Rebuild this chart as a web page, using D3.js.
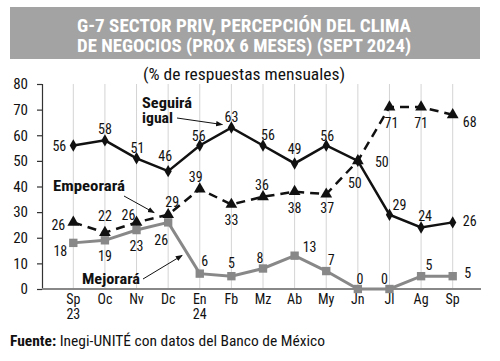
<!DOCTYPE html>
<html>
<head>
<meta charset="utf-8">
<script src="https://cdn.jsdelivr.net/npm/d3@7"></script>
<style>
  body { margin: 0; background: #fff; }
  svg text { font-family: "Roboto Condensed", "Liberation Sans Narrow", "DejaVu Sans Condensed", Roboto, sans-serif; }
</style>
</head>
<body>
<script>
   // data
   let months = ['Sp', 'Oc', 'Nv', 'Dc', 'En', 'Fb', 'Mz', 'Ab', 'My', 'Jn', 'Jl', 'Ag', 'Sp'];
   let years = ['23', '', '', '', '24', '', '', '', '', '', '', '', ''];
   let seguira = [56, 58, 51, 46, 56, 63, 56, 49, 56, 50, 29, 24, 26];
   let empeorara = [26, 22, 26, 29, 39, 33, 36, 38, 37, 50, 71, 71, 68];
   let mejorara = [18, 19, 23, 26, 6, 5, 8, 13, 7, 0, 0, 5, 5];
   let yTicks = [0, 10, 20, 30, 40, 50, 60, 70, 80];

   // label nudges (dx, dy from the point)
   let seguiraOff = [[-14, 0], [0, -11], [1, -10], [-3, -15], [-1, -10], [0, -11], [5, -11], [0, -14], [1, -10], [24, 1], [10, -10], [4, -12], [17, -1]];
   let empeoraraOff = [[-15, 3], [0, -17], [-8, -7], [4, -13], [-4, -12], [0, 16], [-1, -12], [0, 16], [1, 14], [-3, 22], [2, 16], [0, 16], [17, 7]];
   let mejoraraOff = [[-13, 8], [0, 16], [0, 16], [-7, 18], [5, -13], [0, -13], [-3, -11], [15, -9], [5, -11], [2, -10], [-5, -10], [8, -11], [15, -3]];

   let width = 500;
   let height = 361;
   let svg = d3.select('body').append('svg')
      .attr('width', width)
      .attr('height', height);

   let xScale = d3.scalePoint()
      .domain(d3.range(months.length))
      .range([73.3, 452.7]);
   let yScale = d3.scaleLinear()
      .domain([0, 80])
      .range([289, 84]);

   // arrowhead
   svg.append('defs').append('marker')
      .attr('id', 'arrow')
      .attr('viewBox', '0 0 10 10')
      .attr('refX', 9)
      .attr('refY', 5)
      .attr('markerWidth', 7)
      .attr('markerHeight', 7)
      .attr('orient', 'auto')
      .append('path')
      .attr('d', 'M0,1 L10,5 L0,9 Z')
      .attr('fill', '#111');

   let drawTitle = () => {
      svg.append('rect')
         .attr('x', 10).attr('y', 7)
         .attr('width', 470).attr('height', 52)
         .attr('fill', '#a3a3a3');
      let lines = ['G-7 SECTOR PRIV, PERCEPCIÓN DEL CLIMA', 'DE NEGOCIOS (PROX 6 MESES) (SEPT 2024)'];
      lines.forEach((t, i) => {
         svg.append('text')
            .attr('x', 77).attr('y', 32 + i * 20)
            .attr('textLength', 334)
            .attr('lengthAdjust', 'spacingAndGlyphs')
            .attr('font-size', 18)
            .attr('font-weight', 'bold')
            .attr('fill', '#fff')
            .text(t);
      });
      svg.append('text')
         .attr('x', 143).attr('y', 80)
         .attr('textLength', 202)
         .attr('lengthAdjust', 'spacingAndGlyphs')
         .attr('font-size', 16)
         .attr('fill', '#111')
         .text('(% de respuestas mensuales)');
   }

   let drawAxes = () => {
      // vertical grid
      svg.append('g').selectAll('line')
         .data(d3.range(months.length))
         .enter().append('line')
         .attr('x1', (d) => xScale(d)).attr('x2', (d) => xScale(d))
         .attr('y1', yScale(80)).attr('y2', yScale(0))
         .attr('stroke', '#d4d4d4')
         .attr('stroke-width', 1);

      let yAxis = d3.axisLeft(yScale).tickValues(yTicks).tickSize(5).tickPadding(9);
      let gy = svg.append('g')
         .attr('transform', 'translate(42, 0)')
         .call(yAxis);
      gy.select('.domain').attr('stroke', '#333').attr('stroke-width', 1.2);
      gy.selectAll('.tick line').attr('stroke', '#333').attr('stroke-width', 1.2);
      gy.selectAll('.tick text')
         .attr('font-size', 15)
         .attr('fill', '#111')
         .style('font-family', null);

      // x axis line
      svg.append('line')
         .attr('x1', 42).attr('x2', 481)
         .attr('y1', yScale(0)).attr('y2', yScale(0))
         .attr('stroke', '#888')
         .attr('stroke-width', 2);

      let gx = svg.append('g');
      gx.selectAll('text.m')
         .data(months)
         .enter().append('text')
         .attr('class', 'm')
         .attr('x', (d, i) => xScale(i))
         .attr('y', 304)
         .attr('text-anchor', 'middle')
         .attr('font-size', 14)
         .attr('fill', '#111')
         .text((d) => d);
      gx.selectAll('text.yr')
         .data(years)
         .enter().append('text')
         .attr('class', 'yr')
         .attr('x', (d, i) => xScale(i))
         .attr('y', 319)
         .attr('text-anchor', 'middle')
         .attr('font-size', 14)
         .attr('fill', '#111')
         .text((d) => d);
   }

   let drawSeries = (values, offsets, color, dash, width, symbol, symSize) => {
      let line = d3.line()
         .x((d, i) => xScale(i))
         .y((d) => yScale(d));
      svg.append('path')
         .datum(values)
         .attr('d', line)
         .attr('fill', 'none')
         .attr('stroke', color)
         .attr('stroke-width', width)
         .attr('stroke-dasharray', dash);
      svg.append('g').selectAll('path')
         .data(values)
         .enter().append('path')
         .attr('d', d3.symbol().type(symbol).size(symSize))
         .attr('transform', (d, i) => 'translate(' + xScale(i) + ',' + yScale(d) + ')')
         .attr('fill', color);
      svg.append('g').selectAll('text')
         .data(values)
         .enter().append('text')
         .attr('x', (d, i) => xScale(i) + offsets[i][0])
         .attr('y', (d, i) => yScale(d) + offsets[i][1])
         .attr('text-anchor', 'middle')
         .attr('dominant-baseline', 'central')
         .attr('font-size', 14)
         .attr('fill', '#111')
         .text((d) => d);
   }

   let drawNotes = () => {
      let note = (lines, lens, x, y) => {
         lines.forEach((t, i) => {
            svg.append('text')
               .attr('x', x).attr('y', y + i * 15)
               .attr('textLength', lens[i])
               .attr('lengthAdjust', 'spacingAndGlyphs')
               .attr('font-size', 14)
               .attr('font-weight', 'bold')
               .attr('fill', '#111')
               .text(t);
         });
      }
      let arrow = (x1, y1, x2, y2) => {
         svg.append('line')
            .attr('x1', x1).attr('y1', y1)
            .attr('x2', x2).attr('y2', y2)
            .attr('stroke', '#111')
            .attr('stroke-width', 1)
            .attr('marker-end', 'url(#arrow)');
      }
      note(['Seguirá', 'igual'], [50, 31], 142, 108);
      arrow(177, 118, xScale(5) - 9, yScale(63) - 3);
      note(['Empeorará'], [72], 53, 191);
      arrow(124, 196, xScale(3) - 14, yScale(29) - 2);
      note(['Mejorará'], [58], 82, 284);
      arrow(143, 279, xScale(3) + 14, yScale(26) + 33);
   }

   let drawFooter = () => {
      let t = svg.append('text')
         .attr('x', 10).attr('y', 346)
         .attr('font-size', 15)
         .attr('textLength', 315)
         .attr('lengthAdjust', 'spacingAndGlyphs')
         .attr('fill', '#111');
      t.append('tspan').attr('font-weight', 'bold').text('Fuente:');
      t.append('tspan').text(' Inegi-UNITÉ con datos del Banco de México');
   }

   drawTitle();
   drawAxes();
   drawSeries(mejorara, mejoraraOff, '#888', null, 3, d3.symbolSquare, 70);
   drawSeries(empeorara, empeoraraOff, '#111', '9,6', 2.5, d3.symbolTriangle, 60);
   drawSeries(seguira, seguiraOff, '#111', null, 2.5, d3.symbolDiamond, 45);
   drawNotes();
   drawFooter();
</script>
</body>
</html>
